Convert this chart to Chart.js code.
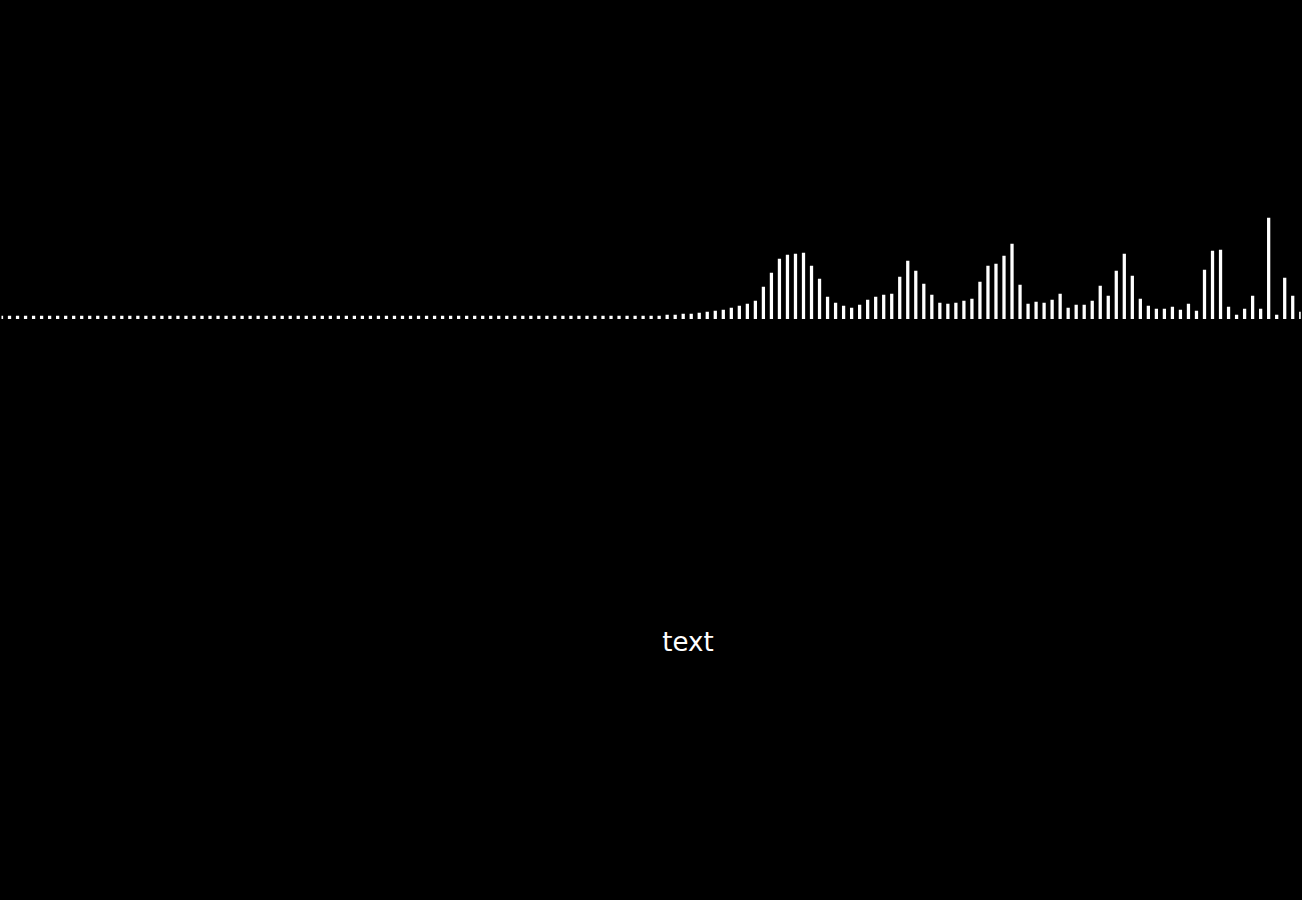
<!DOCTYPE html>
<html>
<head>
<meta charset="utf-8">
<script src="https://cdn.jsdelivr.net/npm/chart.js@4"></script>
<style>
  html, body { margin: 0; padding: 0; background: #000; width: 1302px; height: 900px; overflow: hidden; }
  #wrap { position: absolute; left: 0; top: 0; width: 1302px; height: 319px; }
  #label { position: absolute; left: 588px; width: 200px; top: 629px; line-height: 26px;
           text-align: center; color: #fff; font-family: "DejaVu Sans", sans-serif; font-size: 26px; }
</style>
</head>
<body>
<div id="wrap"><canvas id="bars"></canvas></div>
<div id="label">text</div>
<script>
// bar heights, left to right (bins 0..81 sit at the floor value)
const floorBins = new Array(82).fill(3);
const upperBins = [
  3, 4, 4, 5, 5, 6, 7, 8, 9, 11, 13, 15, 18, 32,
  46, 60, 64, 65, 66, 53, 40, 22, 16, 13, 11, 14, 19, 22,
  24, 25, 42, 58, 48, 35, 24, 16, 15, 16, 18, 20, 37, 53,
  55, 63, 75, 34, 15, 17, 16, 19, 25, 11, 14, 14, 18, 33,
  23, 48, 65, 43, 20, 13, 10, 10, 12, 9, 15, 8, 49,
  68, 69, 12, 4, 10, 23, 10, 101, 4, 41, 23, 7
];
const levels = floorBins.concat(upperBins);
const bins = levels.map(function(v, i) { return i; });
const yMax = 319;

document.addEventListener('DOMContentLoaded', function() {
  const ctx = document.getElementById('bars');

  new Chart(ctx, {
    type: 'bar',
    data: {
      labels: bins,
      datasets: [{
        data: levels,
        backgroundColor: '#ffffff',
        borderWidth: 0,
        barThickness: 2.6
      }]
    },
    options: {
      responsive: true,
      maintainAspectRatio: false,
      animation: false,
      layout: { padding: { left: 1.5, right: 1.26, top: 0, bottom: 0 } },
      plugins: { legend: { display: false }, tooltip: { enabled: false } },
      scales: {
        x: { display: false, offset: false, grid: { display: false } },
        y: { display: false, min: 0, max: yMax, grid: { display: false } }
      }
    }
  });
});
</script>
</body>
</html>
